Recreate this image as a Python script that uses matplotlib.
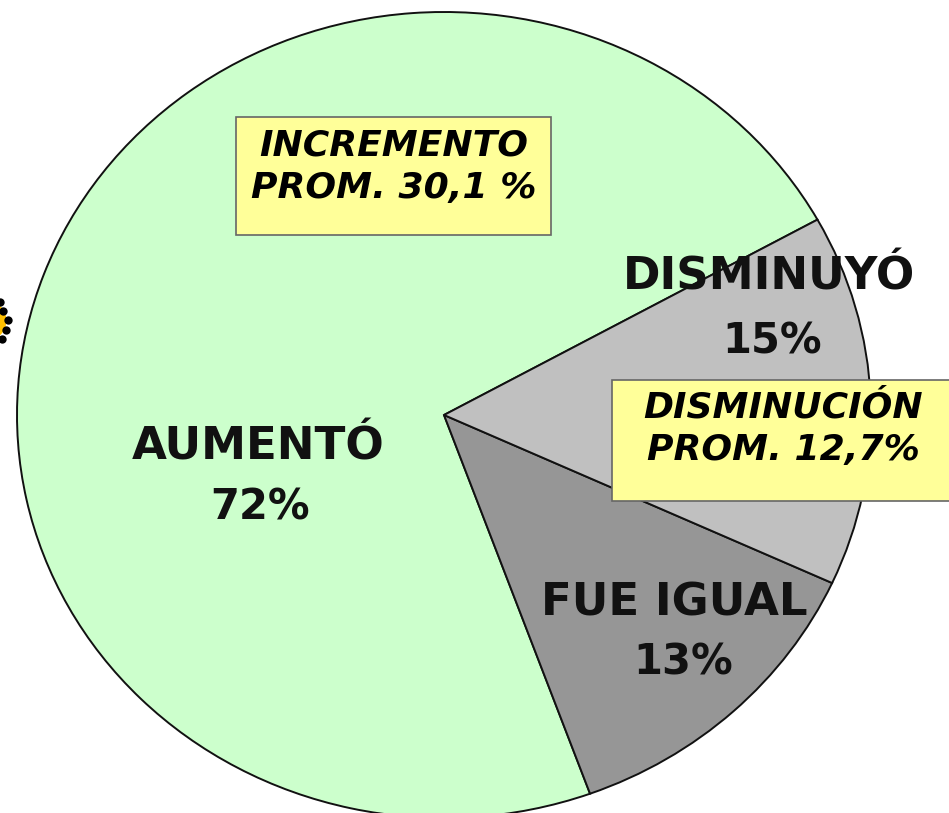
import matplotlib
matplotlib.use('Agg')
import matplotlib.pyplot as plt
from matplotlib.patches import Rectangle

values = [72.5, 12.6, 14.9]
colors = ['#ccffcc', '#969696', '#c0c0c0']
names = ['AUMENTÓ', 'FUE IGUAL', 'DISMINUYÓ']
pcts = ['72%', '13%', '15%']
notes = ['INCREMENTO\nPROM. 30,1 %', 'DISMINUCIÓN\nPROM. 12,7%']

W, H = 949, 813
# pie is a bit squashed in the original: wider than tall
cx, cy, rx, ry = 444, 415, 427, 403

fig = plt.figure(figsize=(W/100, H/100), dpi=100)
ax = fig.add_axes([0, 0, 1, 1])
wedges, _ = ax.pie(values, colors=colors, startangle=29, counterclock=True, radius=1,
                   wedgeprops={'edgecolor': '#111111', 'linewidth': 1.4})
ax.set_aspect('auto')
ax.set_xlim(-cx/rx, (W-cx)/rx)
ax.set_ylim((cy-H)/ry, cy/ry)

# second axes in pixel coords for the labels and boxes
px = fig.add_axes([0, 0, 1, 1])
px.set_xlim(0, W)
px.set_ylim(H, 0)
px.axis('off')

# labels: name is wider than the percent in the original
name_pos = [(258, 447), (674, 603), (769, 277)]
pct_pos = [(260, 507), (683, 662), (772, 341)]
for i in range(3):
    px.text(name_pos[i][0], name_pos[i][1], names[i], ha='center', va='center', fontsize=32.5,
            fontweight='bold', family='DejaVu Sans', color='#111111')
    px.text(pct_pos[i][0], pct_pos[i][1], pcts[i], ha='center', va='center', fontsize=30,
            fontweight='bold', family='DejaVu Sans', color='#111111')

# yellow boxes
px.add_patch(Rectangle((236, 117), 315, 118, facecolor='#ffff99', edgecolor='#666666', lw=1.2))
px.add_patch(Rectangle((612, 380), 340, 121, facecolor='#ffff99', edgecolor='#666666', lw=1.2))
px.text(394, 167, notes[0], ha='center', va='center', fontsize=26, fontweight='bold',
        style='italic', family='DejaVu Sans', color='black', linespacing=1.33)
px.text(783, 429, notes[1], ha='center', va='center', fontsize=26, fontweight='bold',
        style='italic', family='DejaVu Sans', color='black', linespacing=1.33)

# bit of the gold seal cut by the left edge
px.scatter([-14], [320], s=830, color='#ffc000', linewidths=0, zorder=3)
px.scatter([0, 3, 8, 6, 2], [302, 311, 320, 330, 339], s=36, color='black', linewidths=0, zorder=4)

fig.savefig('out.png', dpi=100)
